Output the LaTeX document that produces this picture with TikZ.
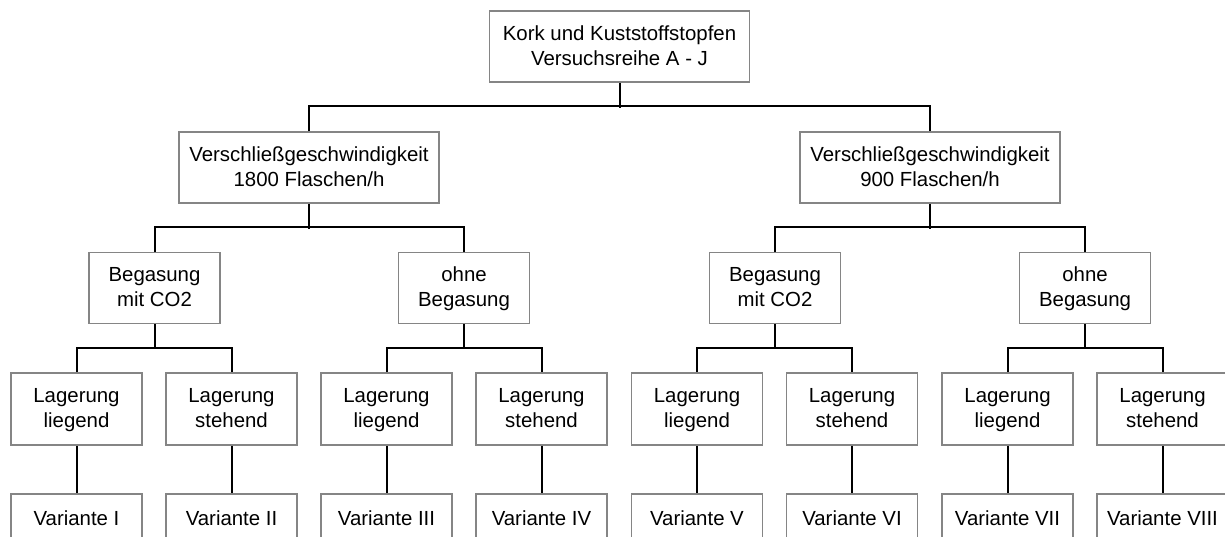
\documentclass[tikz,border=0pt]{standalone}
\usepackage{fontspec}
\setmainfont{Liberation Sans}
\newcommand\st{\rule[-5pt]{0pt}{22pt}}
\newcommand\tl[2]{\st#1\\\st#2}
\begin{document}
\begin{tikzpicture}[x=1pt,y=-1pt,
  box/.style={draw=black!48, line width=1.7pt, fill=white, align=center,
    inner sep=0pt, font=\fontsize{20.4}{25}\selectfont},
  wide/.style={box, minimum width=260pt, minimum height=71pt},
  mid/.style={box, minimum width=131pt, minimum height=71pt},
  leaf/.style={box, minimum width=131pt, minimum height=72pt},
  var/.style={box, minimum width=131pt, minimum height=50pt},
  conn/.style={draw=black, line width=2pt}]
\clip (0,0) rectangle (1225,536);
\fill[white] (0,0) rectangle (1225,536);

\node[wide] (top) at (619.5,46.5) {\tl{Kork und Kuststoffstopfen}{Versuchsreihe A - J}};
\node[wide] (v1) at (309,167.5) {\tl{Verschließgeschwindigkeit}{1800 Flaschen/h}};
\node[wide] (v2) at (930,167.5) {\tl{Verschließgeschwindigkeit}{900 Flaschen/h}};

\node[mid] (b1) at (154.5,288) {\tl{Begasung}{mit CO2}};
\node[mid] (b2) at (464,288) {\tl{ohne}{Begasung}};
\node[mid] (b3) at (775,288) {\tl{Begasung}{mit CO2}};
\node[mid] (b4) at (1085,288) {\tl{ohne}{Begasung}};

\node[leaf] (l1) at (76.5,409) {\tl{Lagerung}{liegend}};
\node[leaf] (l2) at (231.5,409) {\tl{Lagerung}{stehend}};
\node[leaf] (l3) at (386.5,409) {\tl{Lagerung}{liegend}};
\node[leaf] (l4) at (541.5,409) {\tl{Lagerung}{stehend}};
\node[leaf] (l5) at (697,409) {\tl{Lagerung}{liegend}};
\node[leaf] (l6) at (852,409) {\tl{Lagerung}{stehend}};
\node[leaf] (l7) at (1007.5,409) {\tl{Lagerung}{liegend}};
\node[leaf] (l8) at (1162.5,409) {\tl{Lagerung}{stehend}};

\node[var] (w1) at (76.5,519) {\st Variante I};
\node[var] (w2) at (231.5,519) {\st Variante II};
\node[var] (w3) at (386.5,519) {\st Variante III};
\node[var] (w4) at (541.5,519) {\st Variante IV};
\node[var] (w5) at (697,519) {\st Variante V};
\node[var] (w6) at (852,519) {\st Variante VI};
\node[var] (w7) at (1007.5,519) {\st Variante VII};
\node[var] (w8) at (1162.5,519) {\st Variante VIII};

% level 1 -> 2
\draw[conn] (top.south) -- ++(0,25);
\draw[conn] (v1.north) -- ++(0,-25) -| (v2.north);
% level 2 -> 3
\draw[conn] (v1.south) -- ++(0,25);
\draw[conn] (b1.north) -- ++(0,-25) -| (b2.north);
\draw[conn] (v2.south) -- ++(0,25);
\draw[conn] (b3.north) -- ++(0,-25) -| (b4.north);
% level 3 -> 4
\foreach \p/\a/\b in {b1/l1/l2, b2/l3/l4, b3/l5/l6, b4/l7/l8} {
  \draw[conn] (\p.south) -- ++(0,24.5);
  \draw[conn] (\a.north) -- ++(0,-24.5) -| (\b.north);
}
% level 4 -> 5
\foreach \i in {1,...,8} {
  \draw[conn] (l\i.south) -- (w\i.north);
}
\end{tikzpicture}
\end{document}
